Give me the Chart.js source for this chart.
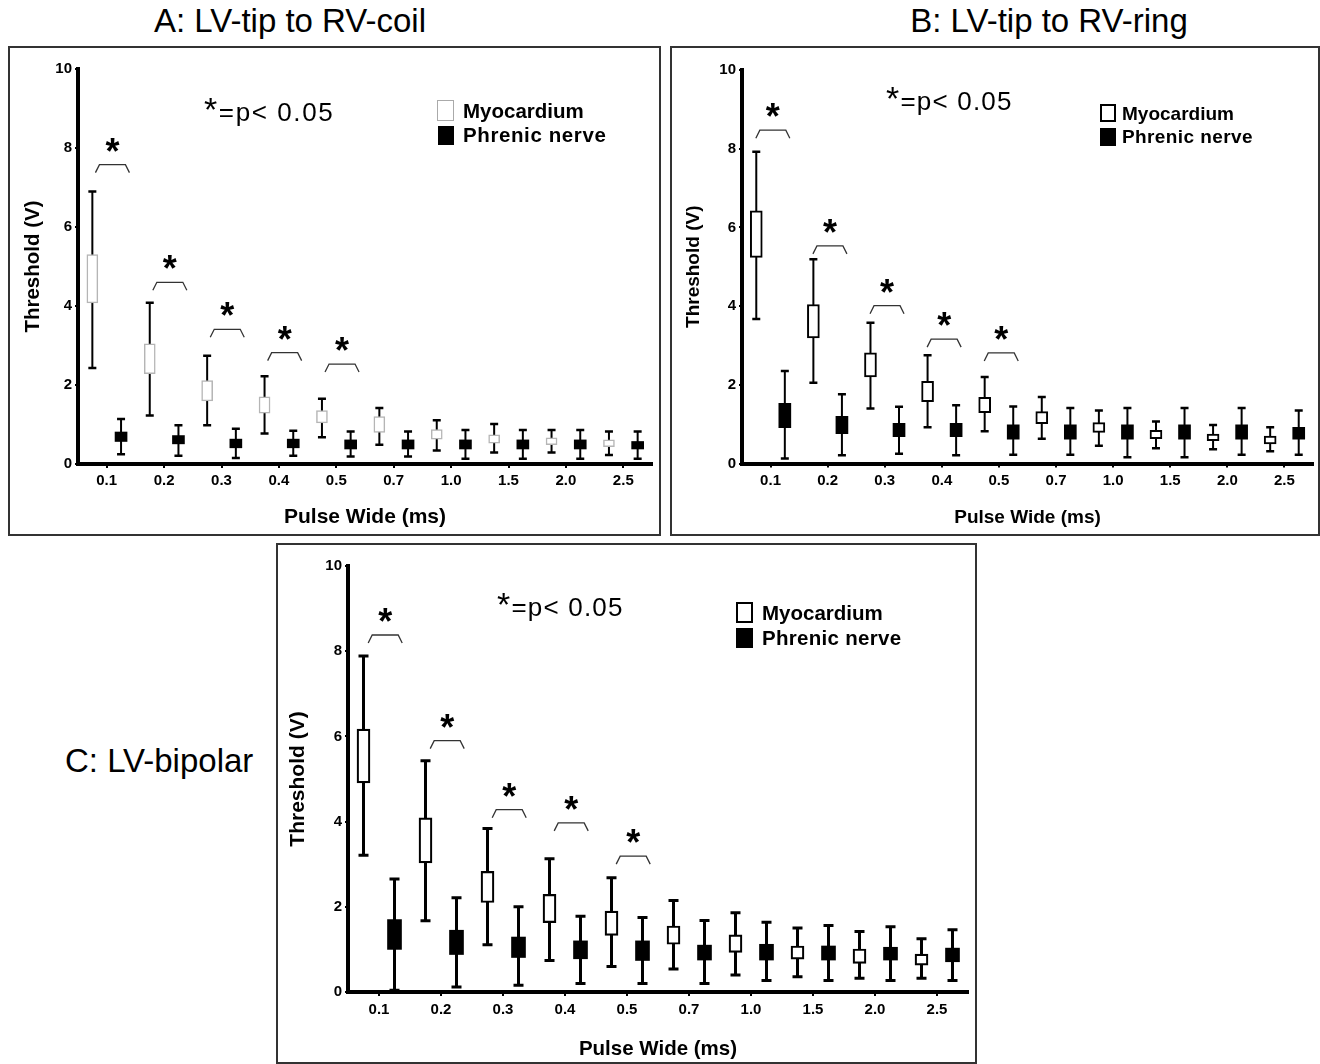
<!DOCTYPE html>
<html><head><meta charset="utf-8">
<script src="https://cdn.jsdelivr.net/npm/chart.js@4.4.1/dist/chart.umd.min.js"></script>
<style>
body{margin:0;width:1320px;height:1064px;background:#fff;position:relative;overflow:hidden;font-family:"Liberation Sans",Arial,Helvetica,sans-serif;color:#000;}
.frame{position:absolute;border:2px solid #333;box-sizing:border-box;}
canvas{position:absolute;}
.t{position:absolute;white-space:nowrap;line-height:1;}
.b{font-weight:bold;}
.sq{position:absolute;box-sizing:border-box;}
.st{font-size:34px;}
</style></head><body>

<div class="t" style="left:90px;width:400px;text-align:center;top:4px;font-size:33px;">A: LV-tip to RV-coil</div>
<div class="t" style="left:849px;width:400px;text-align:center;top:4px;font-size:33px;">B: LV-tip to RV-ring</div>
<div class="t" style="left:65px;top:744px;font-size:33px;">C: LV-bipolar</div>

<canvas id="cA" width="652" height="490" style="left:8px;top:46px"></canvas>
<canvas id="cB" width="650" height="490" style="left:670px;top:46px"></canvas>
<canvas id="cC" width="700" height="521" style="left:276px;top:543px"></canvas>

<div class="frame" style="left:8px;top:46px;width:653px;height:490px"></div>
<div class="frame" style="left:670px;top:46px;width:650px;height:490px"></div>
<div class="frame" style="left:276px;top:543px;width:701px;height:521px"></div>

<div class="t" style="left:204px;top:92px;font-size:26px;letter-spacing:1.6px;"><span class="st">*</span>=p&lt; 0.05</div>
<div class="t" style="left:886px;top:81px;font-size:26px;letter-spacing:1.2px;"><span class="st">*</span>=p&lt; 0.05</div>
<div class="t" style="left:497px;top:587px;font-size:26px;letter-spacing:1.2px;"><span class="st">*</span>=p&lt; 0.05</div>

<div class="sq" style="left:437px;top:100px;width:17px;height:21px;border:1.5px solid #aaa;background:#fff"></div>
<div class="sq" style="left:438px;top:126px;width:16px;height:19px;background:#000"></div>
<div class="t b" style="left:463px;top:101px;font-size:20.5px;">Myocardium</div>
<div class="t b" style="left:463px;top:125px;font-size:20.5px;letter-spacing:0.6px;">Phrenic nerve</div>

<div class="sq" style="left:1100px;top:104px;width:16px;height:18px;border:2px solid #000;background:#fff"></div>
<div class="sq" style="left:1100px;top:128px;width:16px;height:18px;background:#000"></div>
<div class="t b" style="left:1122px;top:104px;font-size:19px;">Myocardium</div>
<div class="t b" style="left:1122px;top:127px;font-size:19px;letter-spacing:0.4px;">Phrenic nerve</div>

<div class="sq" style="left:736px;top:602px;width:17px;height:21px;border:2px solid #000;background:#fff"></div>
<div class="sq" style="left:736px;top:628px;width:17px;height:20px;background:#000"></div>
<div class="t b" style="left:762px;top:603px;font-size:20.5px;">Myocardium</div>
<div class="t b" style="left:762px;top:628px;font-size:20.5px;letter-spacing:0.3px;">Phrenic nerve</div>

<script>
// ---------- DATA ----------
const categories = ['0.1','0.2','0.3','0.4','0.5','0.7','1.0','1.5','2.0','2.5'];
const yTicks = [0, 2, 4, 6, 8, 10];

// Panel A: LV-tip to RV-coil
const aMyoMin = [2.43, 1.23, 0.98, 0.77, 0.68, 0.49, 0.34, 0.29, 0.29, 0.23];
const aMyoQ1  = [4.08, 2.29, 1.60, 1.29, 1.04, 0.80, 0.63, 0.53, 0.49, 0.44];
const aMyoQ3  = [5.30, 3.04, 2.11, 1.70, 1.35, 1.20, 0.87, 0.74, 0.66, 0.61];
const aMyoMax = [6.90, 4.08, 2.74, 2.22, 1.65, 1.42, 1.11, 1.01, 0.86, 0.82];
const aPhrMin = [0.25, 0.21, 0.15, 0.21, 0.19, 0.19, 0.13, 0.13, 0.13, 0.13];
const aPhrQ1  = [0.57, 0.51, 0.41, 0.41, 0.38, 0.38, 0.38, 0.38, 0.38, 0.38];
const aPhrQ3  = [0.81, 0.72, 0.63, 0.63, 0.61, 0.61, 0.61, 0.61, 0.61, 0.57];
const aPhrMax = [1.14, 0.98, 0.89, 0.84, 0.82, 0.82, 0.86, 0.86, 0.86, 0.82];
const aSig    = [7.58, 4.60, 3.41, 2.82, 2.53, null, null, null, null, null];

// Panel B: LV-tip to RV-ring
const bMyoMin = [3.67, 2.05, 1.40, 0.92, 0.82, 0.63, 0.45, 0.39, 0.36, 0.31];
const bMyoQ1  = [5.24, 3.19, 2.20, 1.57, 1.29, 1.01, 0.79, 0.63, 0.58, 0.50];
const bMyoQ3  = [6.42, 4.04, 2.81, 2.09, 1.68, 1.32, 1.04, 0.84, 0.75, 0.70];
const bMyoMax = [7.92, 5.19, 3.58, 2.75, 2.20, 1.69, 1.35, 1.07, 0.98, 0.92];
const bPhrMin = [0.13, 0.21, 0.25, 0.21, 0.22, 0.22, 0.16, 0.16, 0.22, 0.22];
const bPhrQ1  = [0.91, 0.76, 0.68, 0.68, 0.62, 0.62, 0.62, 0.62, 0.62, 0.62];
const bPhrQ3  = [1.53, 1.20, 1.02, 1.02, 0.98, 0.98, 0.98, 0.98, 0.98, 0.92];
const bPhrMax = [2.35, 1.76, 1.44, 1.48, 1.45, 1.41, 1.41, 1.41, 1.41, 1.35];
const bSig    = [8.47, 5.53, 4.01, 3.16, 2.81, null, null, null, null, null];

// Panel C: LV-bipolar
const cMyoMin = [3.21, 1.67, 1.11, 0.74, 0.60, 0.54, 0.40, 0.36, 0.32, 0.32];
const cMyoQ1  = [4.91, 3.03, 2.10, 1.63, 1.33, 1.12, 0.93, 0.77, 0.67, 0.63];
const cMyoQ3  = [6.17, 4.09, 2.83, 2.29, 1.90, 1.55, 1.34, 1.08, 1.01, 0.89];
const cMyoMax = [7.89, 5.43, 3.84, 3.13, 2.68, 2.15, 1.86, 1.50, 1.42, 1.25];
const cPhrMin = [0.04, 0.12, 0.16, 0.20, 0.20, 0.20, 0.27, 0.27, 0.27, 0.27];
const cPhrQ1  = [1.00, 0.88, 0.81, 0.78, 0.74, 0.75, 0.75, 0.75, 0.75, 0.71];
const cPhrQ3  = [1.70, 1.45, 1.29, 1.20, 1.20, 1.10, 1.12, 1.08, 1.05, 1.03];
const cPhrMax = [2.65, 2.21, 2.00, 1.78, 1.75, 1.68, 1.64, 1.56, 1.53, 1.46];
const cSig    = [8.38, 5.90, 4.28, 3.97, 3.19, null, null, null, null, null];

const seriesNames = ['Myocardium', 'Phrenic nerve'];
const xTitle = 'Pulse Wide (ms)';
const yTitle = 'Threshold (V)';

// ---------- PLUGINS ----------
const whiskerPlugin = {
  id: 'whiskers',
  beforeDatasetsDraw(chart, args, o) {
    const ctx = chart.ctx, ys = chart.scales.y;
    chart.data.datasets.forEach((ds, di) => {
      const meta = chart.getDatasetMeta(di);
      meta.data.forEach((bar, i) => {
        const top = ys.getPixelForValue(ds.whiskerHigh[i]);
        const bot = ys.getPixelForValue(ds.whiskerLow[i]);
        ctx.save();
        ctx.strokeStyle = '#000';
        ctx.lineWidth = o.lineWidth;
        ctx.beginPath();
        ctx.moveTo(bar.x, top); ctx.lineTo(bar.x, bot);
        ctx.stroke();
        ctx.lineWidth = o.capWidth;
        ctx.beginPath();
        ctx.moveTo(bar.x - o.cap / 2, top); ctx.lineTo(bar.x + o.cap / 2, top);
        ctx.moveTo(bar.x - o.cap / 2, bot); ctx.lineTo(bar.x + o.cap / 2, bot);
        ctx.stroke();
        ctx.restore();
      });
    });
  }
};

const bracketPlugin = {
  id: 'brackets',
  afterDatasetsDraw(chart, args, o) {
    const ctx = chart.ctx, xs = chart.scales.x, ys = chart.scales.y;
    const sig = chart.data.sigLevels;
    const step = xs.getPixelForValue(1) - xs.getPixelForValue(0);
    sig.forEach((v, i) => {
      if (v == null) return;
      const xc = xs.getPixelForValue(i) + o.shift * step;
      const y = ys.getPixelForValue(v);
      ctx.save();
      ctx.strokeStyle = '#333';
      ctx.lineWidth = 1.3;
      ctx.beginPath();
      ctx.moveTo(xc - o.half, y + o.drop);
      ctx.lineTo(xc - o.half + o.slant, y);
      ctx.lineTo(xc + o.half - o.slant, y);
      ctx.lineTo(xc + o.half, y + o.drop);
      ctx.stroke();
      ctx.fillStyle = '#000';
      ctx.font = 'bold ' + o.starSize + 'px "Liberation Sans", Arial, sans-serif';
      ctx.textAlign = 'center';
      ctx.textBaseline = 'alphabetic';
      ctx.fillText('*', xc, y + o.starDy);
      ctx.restore();
    });
  }
};

Chart.defaults.font.family = '"Liberation Sans", Arial, Helvetica, sans-serif';
Chart.defaults.color = '#000';

function makeChart(id, D, S) {
  return new Chart(document.getElementById(id), {
    type: 'bar',
    data: {
      labels: categories,
      sigLevels: D.sig,
      datasets: [
        {
          label: seriesNames[0],
          data: D.myoQ1.map((v, i) => [v, D.myoQ3[i]]),
          whiskerLow: D.myoMin, whiskerHigh: D.myoMax,
          backgroundColor: '#fff', borderColor: S.myoBorder, borderWidth: S.myoBorderW,
          borderSkipped: false, categoryPercentage: 1, barPercentage: 1, maxBarThickness: S.boxW
        },
        {
          label: seriesNames[1],
          data: D.phrQ1.map((v, i) => [v, D.phrQ3[i]]),
          whiskerLow: D.phrMin, whiskerHigh: D.phrMax,
          backgroundColor: '#000', borderColor: '#000', borderWidth: 0,
          borderSkipped: false, categoryPercentage: 1, barPercentage: 1, maxBarThickness: S.boxW2
        }
      ]
    },
    options: {
      responsive: false, animation: false, events: [],
      layout: { padding: { left: 0, top: S.padTop, right: S.padRight, bottom: 0 } },
      plugins: {
        legend: { display: false }, tooltip: { enabled: false },
        whiskers: { lineWidth: S.whiskW, capWidth: S.capW, cap: S.cap },
        brackets: { shift: S.shift, half: 17, slant: 4, drop: 8, starSize: 36, starDy: -1 }
      },
      scales: {
        x: {
          grid: { display: true, drawOnChartArea: false, drawTicks: true, tickLength: 4, color: '#000', lineWidth: 2, offset: false },
          border: { display: true, color: '#000', width: 4 },
          ticks: { color: '#000', font: { size: S.tickSize, weight: 'bold' }, padding: S.xTickPad, maxRotation: 0, autoSkip: false },
          title: { display: true, text: xTitle, color: '#000', font: { size: S.xTitleSize, weight: 'bold' }, padding: { top: 0, bottom: S.xTitlePad } },
          afterFit: s => { s.height = S.xH; }
        },
        y: {
          min: yTicks[0], max: yTicks[yTicks.length - 1],
          afterBuildTicks: s => { s.ticks = yTicks.map(v => ({ value: v })); },
          grid: { display: true, drawOnChartArea: false, drawTicks: true, tickLength: 3, color: '#000', lineWidth: 2 },
          border: { display: true, color: '#000', width: 4 },
          ticks: { color: '#000', font: { size: S.yTickSize, weight: 'bold' }, padding: 3 },
          title: { display: true, text: yTitle, color: '#000', font: { size: S.yTitleSize, weight: 'bold' }, padding: { top: S.yTitlePad, bottom: 0 } },
          afterFit: s => { s.width = S.yW; }
        }
      }
    },
    plugins: [whiskerPlugin, bracketPlugin]
  });
}

makeChart('cA',
  { myoMin: aMyoMin, myoQ1: aMyoQ1, myoQ3: aMyoQ3, myoMax: aMyoMax, phrMin: aPhrMin, phrQ1: aPhrQ1, phrQ3: aPhrQ3, phrMax: aPhrMax, sig: aSig },
  { padTop: 23, padRight: 8, yW: 70, xH: 72, boxW: 11, boxW2: 12, myoBorder: '#b5b5b5', myoBorderW: 1.5,
    whiskW: 2, capW: 2.5, cap: 8, shift: 0.1, tickSize: 15, yTickSize: 15, xTickPad: 4, xTitleSize: 21, xTitlePad: 6.5, yTitleSize: 20.5, yTitlePad: 12.7 });

makeChart('cB',
  { myoMin: bMyoMin, myoQ1: bMyoQ1, myoQ3: bMyoQ3, myoMax: bMyoMax, phrMin: bPhrMin, phrQ1: bPhrQ1, phrQ3: bPhrQ3, phrMax: bPhrMax, sig: bSig },
  { padTop: 24, padRight: 7, yW: 72, xH: 72.5, boxW: 12, boxW2: 12, myoBorder: '#000', myoBorderW: 2,
    whiskW: 2, capW: 2.5, cap: 8, shift: 0.04, tickSize: 15, yTickSize: 15, xTickPad: 4, xTitleSize: 19, xTitlePad: 6.6, yTitleSize: 19, yTitlePad: 12.1 });

makeChart('cC',
  { myoMin: cMyoMin, myoQ1: cMyoQ1, myoQ3: cMyoQ3, myoMax: cMyoMax, phrMin: cPhrMin, phrQ1: cPhrQ1, phrQ3: cPhrQ3, phrMax: cPhrMax, sig: cSig },
  { padTop: 23, padRight: 8, yW: 72, xH: 72, boxW: 13, boxW2: 14, myoBorder: '#000', myoBorderW: 2.2,
    whiskW: 3, capW: 3, cap: 10, shift: 0.1, tickSize: 15, yTickSize: 15, xTickPad: 5, xTitleSize: 20.5, xTitlePad: 2.7, yTitleSize: 21, yTitlePad: 9.4 });
</script>
</body></html>
